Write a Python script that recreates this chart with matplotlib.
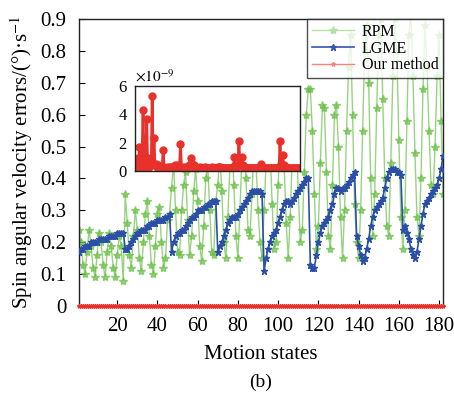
import matplotlib
matplotlib.use("Agg")
import matplotlib.pyplot as plt
import numpy as np

plt.rcParams['font.family'] = ['Liberation Serif', 'DejaVu Serif']
plt.rcParams['mathtext.fontset'] = 'stix'

states = list(range(1, 183))

lgme = [
    0.17, 0.18, 0.18, 0.19, 0.19, 0.19, 0.20, 0.20, 0.20, 0.20, 0.21, 0.21, 0.21, 0.21, 0.21, 0.22, 0.22, 0.22, 0.22, 0.23, 0.23, 0.23, 0.23,
    0.18, 0.18, 0.19, 0.20, 0.21, 0.22, 0.23, 0.23, 0.24, 0.24, 0.24, 0.25, 0.25, 0.26, 0.26, 0.26, 0.27, 0.27, 0.27, 0.27, 0.28, 0.28, 0.29,
    0.17, 0.20, 0.22, 0.23, 0.23, 0.24, 0.24, 0.25, 0.26, 0.27, 0.28, 0.28, 0.29, 0.30, 0.30, 0.30, 0.31, 0.31, 0.32, 0.32, 0.33, 0.33, 0.33,
    0.17, 0.19, 0.20, 0.22, 0.24, 0.26, 0.27, 0.28, 0.28, 0.28, 0.29, 0.30, 0.31, 0.32, 0.33, 0.34, 0.35, 0.36, 0.36, 0.36, 0.36, 0.36, 0.35,
    0.11, 0.15, 0.18, 0.20, 0.22, 0.23, 0.24, 0.26, 0.28, 0.30, 0.32, 0.33, 0.33, 0.32, 0.33, 0.34, 0.35, 0.36, 0.37, 0.38, 0.39, 0.40, 0.40,
    0.13, 0.12, 0.12, 0.16, 0.20, 0.23, 0.25, 0.26, 0.27, 0.28, 0.30, 0.32, 0.35, 0.37, 0.37, 0.36, 0.37, 0.37, 0.38, 0.39, 0.40, 0.41, 0.42,
    0.22, 0.19, 0.16, 0.14, 0.15, 0.18, 0.21, 0.25, 0.28, 0.30, 0.31, 0.32, 0.33, 0.34, 0.37, 0.40, 0.42, 0.43, 0.43, 0.43, 0.42, 0.42, 0.41,
    0.24, 0.25, 0.23, 0.21, 0.18, 0.16, 0.15, 0.17, 0.21, 0.25, 0.29, 0.32, 0.33, 0.34, 0.35, 0.36, 0.37, 0.38, 0.40, 0.43, 0.47,
]

rpm = [
    0.24, 0.20, 0.13, 0.10, 0.17, 0.24, 0.19, 0.12, 0.09, 0.16, 0.23, 0.20, 0.13, 0.09, 0.17, 0.23, 0.19, 0.12, 0.09, 0.16, 0.22, 0.19, 0.08,
    0.35, 0.26, 0.16, 0.12, 0.22, 0.30, 0.24, 0.15, 0.11, 0.20, 0.29, 0.33, 0.22, 0.13, 0.10, 0.19, 0.29, 0.31, 0.20, 0.12, 0.15, 0.27, 0.29,
    0.37, 0.45, 0.30, 0.17, 0.16, 0.30, 0.38, 0.42, 0.27, 0.16, 0.22, 0.36, 0.43, 0.33, 0.19, 0.14, 0.25, 0.40, 0.44, 0.30, 0.17, 0.16, 0.33,
    0.38, 0.48, 0.36, 0.20, 0.15, 0.28, 0.44, 0.52, 0.38, 0.22, 0.15, 0.30, 0.47, 0.55, 0.40, 0.24, 0.22, 0.35, 0.50, 0.45, 0.30, 0.20, 0.15,
    0.30, 0.45, 0.58, 0.50, 0.32, 0.18, 0.20, 0.38, 0.55, 0.60, 0.44, 0.26, 0.15, 0.28, 0.47, 0.62, 0.55, 0.36, 0.20, 0.24, 0.42, 0.60, 0.68,
    0.68, 0.55, 0.35, 0.18, 0.25, 0.45, 0.63, 0.62, 0.42, 0.22, 0.18, 0.38, 0.60, 0.63, 0.50, 0.28, 0.15, 0.30, 0.55, 0.75, 0.85, 0.60, 0.32,
    0.20, 0.15, 0.30, 0.55, 0.80, 0.88, 0.70, 0.40, 0.22, 0.35, 0.62, 0.85, 0.90, 0.65, 0.40, 0.25, 0.22, 0.45, 0.72, 0.90, 0.80, 0.52, 0.28,
    0.18, 0.30, 0.58, 0.85, 0.92, 0.72, 0.48, 0.28, 0.22, 0.40, 0.68, 0.88, 0.75, 0.55, 0.38, 0.35, 0.50, 0.72, 0.85, 0.58, 0.35,
]

# our method errors, in units of 1e-9
ours_e9 = [
    0.2, 0.3, 0.2, 0.9, 0.3, 1.7, 0.4, 0.3, 1.2, 4.3, 0.5, 0.3, 1.0, 3.7, 0.4, 0.6, 0.3, 0.8, 0.4, 5.3,
    0.5, 2.3, 0.4, 0.5, 0.3, 0.4, 0.2, 0.3, 0.2, 0.2, 0.3, 1.5, 0.3, 0.2, 0.2, 0.2, 0.3, 0.2, 0.2, 0.3,
    0.2, 0.3, 0.3, 0.2, 0.4, 0.3, 0.3, 0.4, 0.3, 0.3, 1.9, 0.3, 0.2, 0.2, 0.3, 0.2, 0.2, 0.3, 0.3, 0.4,
    0.3, 0.9, 0.5, 0.5, 0.4, 0.4, 0.3, 0.3, 0.2, 0.2, 0.2, 0.3, 0.2, 0.2, 0.2, 0.2, 0.2, 0.3, 0.2, 0.2,
    0.2, 0.2, 0.2, 0.2, 0.2, 0.3, 0.2, 0.2, 0.2, 0.2, 0.2, 0.3, 0.3, 0.3, 0.2, 0.2, 0.2, 0.2, 0.2, 0.2,
    0.2, 0.2, 0.2, 0.2, 0.2, 0.2, 0.2, 0.2, 0.3, 1.0, 0.4, 0.3, 0.3, 0.4, 2.1, 0.5, 0.4, 1.0, 0.4, 0.3,
    0.2, 0.2, 0.2, 0.2, 0.2, 0.2, 0.2, 0.2, 0.2, 0.2, 0.2, 0.2, 0.2, 0.2, 0.2, 0.2, 0.2, 0.2, 0.5, 0.3,
    0.2, 0.2, 0.2, 0.2, 0.2, 0.2, 0.2, 0.2, 0.2, 0.2, 0.2, 0.2, 0.2, 0.2, 0.2, 0.2, 0.2, 0.2, 0.2, 2.1,
    0.5, 0.4, 1.1, 0.4, 0.3, 0.2, 0.2, 0.2, 0.2, 0.2, 0.2, 0.2, 0.2, 0.2, 0.2, 0.2, 0.2, 0.2, 0.2, 0.2,
    0.2, 0.1,
]
ours = [v * 1e-9 for v in ours_e9]

xticks = [20, 40, 60, 80, 100, 120, 140, 160, 180]
yticks = [0, 0.1, 0.2, 0.3, 0.4, 0.5, 0.6, 0.7, 0.8, 0.9]
inset_yticks = [0, 2, 4, 6]

green = '#6cc04a'
blue = '#2b4fa6'
red = '#e8312b'

fig = plt.figure(figsize=(4.54, 3.95), dpi=100)
ax = fig.add_axes([0.174, 0.225, 0.802, 0.727])

ax.plot(states, rpm, color=green, lw=1.0, alpha=0.7, marker='*', ms=6,
        mfc=green, mec=green, label='RPM', zorder=2)
ax.plot(states, lgme, color=blue, lw=1.2, marker='*', ms=5,
        mfc=blue, mec=blue, label='LGME', zorder=3)
ax.plot(states, ours, color=red, lw=1.0, marker='*', ms=3,
        mfc=red, mec=red, label='Our method', zorder=4, clip_on=False)

ax.set_xlim(1, 182)
ax.set_ylim(0, 0.9)
ax.set_xticks(xticks)
ax.set_yticks(yticks)
ax.set_yticklabels(['0'] + [f'{v:.1f}' for v in yticks[1:]])
ax.tick_params(direction='in', labelsize=15, length=4, width=0.8, top=False, right=False)
ax.tick_params(axis='x', pad=8)
ax.tick_params(axis='y', pad=9)
for s in ax.spines.values():
    s.set_linewidth(1.0)
    s.set_color('#222222')

ax.set_xlabel('Motion states', fontsize=15, labelpad=6)
ax.set_ylabel('Spin angular velocity errors/(°)·s$^{-1}$', fontsize=15, labelpad=4)
fig.text(0.575, 0.033, '(b)', fontsize=14, ha='center', va='center')

leg = ax.legend(loc='upper right', fontsize=11.5, frameon=True, fancybox=False,
                borderaxespad=0.0, handlelength=2.6, handletextpad=0.5,
                labelspacing=0.05, borderpad=0.3)
leg.get_frame().set_edgecolor('#222222')
leg.get_frame().set_linewidth(1.0)
lcols = ['#b6e2a2', '#3556b0', '#f2857a']
for h, c in zip(leg.legend_handles, lcols):
    h.set_color(c)
    h.set_markerfacecolor(c)
    h.set_markeredgecolor(c)
    h.set_alpha(1.0)

# inset
ins = fig.add_axes([0.297, 0.567, 0.364, 0.215])
ins.plot(states, ours_e9, color=red, lw=2.0, marker='o', ms=5, mfc=red, mec=red)
ins.set_xlim(1, 182)
ins.set_ylim(0, 6)
ins.set_yticks(inset_yticks)
ins.set_xticks([])
ins.tick_params(direction='in', labelsize=12, length=0, pad=6)
ins.set_facecolor('white')
for s in ins.spines.values():
    s.set_linewidth(1.0)
    s.set_color('#222222')
ins.text(0.0, 1.02, r'$\times 10^{-9}$', transform=ins.transAxes, fontsize=11, ha='left', va='bottom')

fig.savefig('out.png', dpi=100)
